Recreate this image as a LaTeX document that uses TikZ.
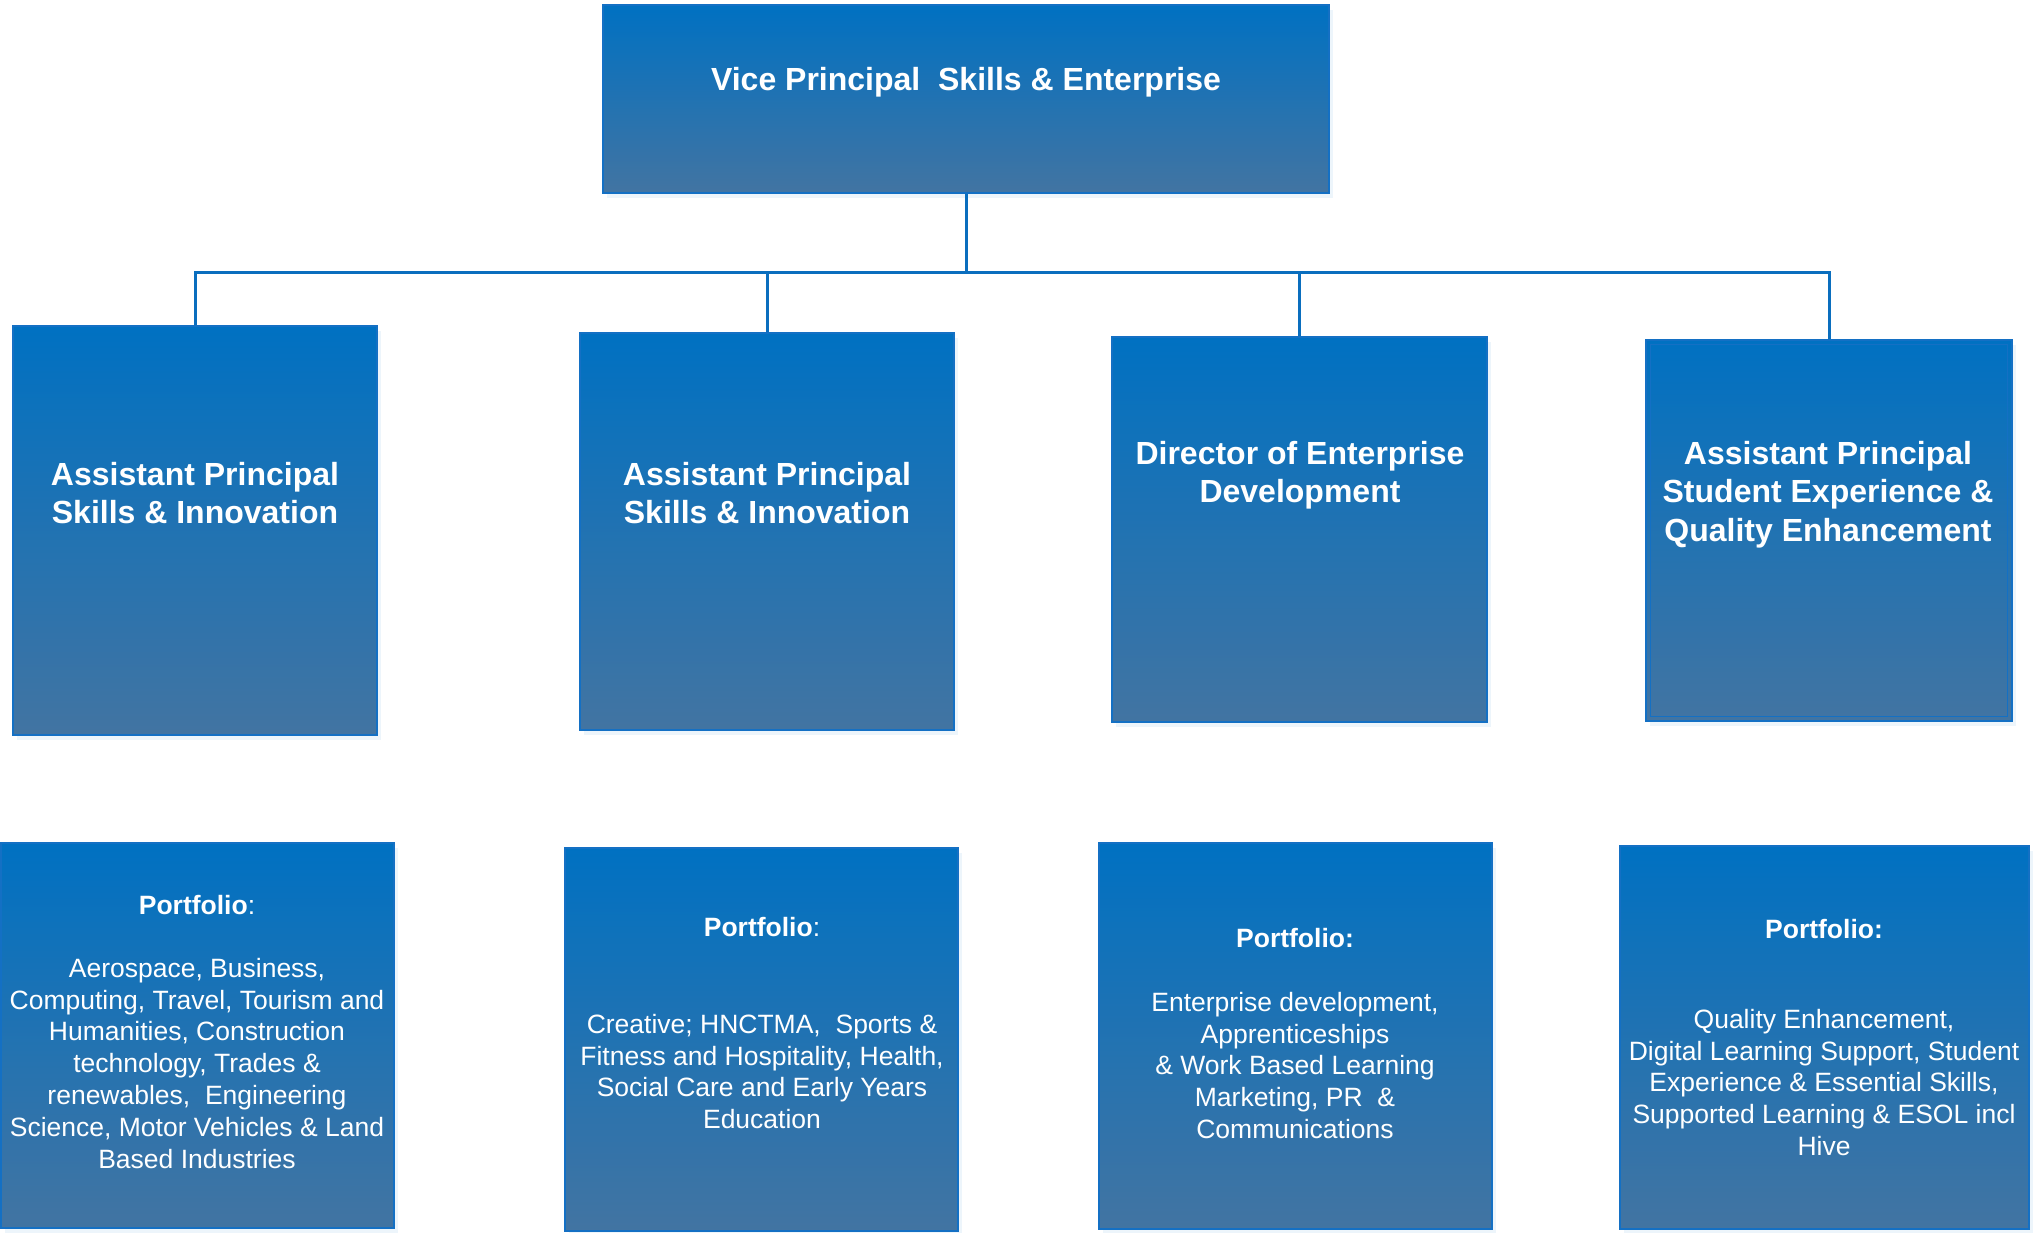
\documentclass[tikz,border=0pt]{standalone}
\usepackage{fontspec}
\setmainfont{Liberation Sans}
\usetikzlibrary{shadows}

\definecolor{boxtop}{RGB}{0,113,194}
\definecolor{boxbottom}{RGB}{66,116,162}
\definecolor{boxedge}{RGB}{20,112,196}
\definecolor{linkblue}{RGB}{10,110,190}

\begin{document}
\begin{tikzpicture}[x=1pt, y=-1pt,
    box/.style={draw=boxedge, line width=1.5pt, top color=boxtop, bottom color=boxbottom, inner sep=0pt,
      drop shadow={shadow xshift=4pt, shadow yshift=-5pt, fill=boxtop!7, opacity=1}},
    headtext/.style={text=white, font=\bfseries\fontsize{32}{38.5}\selectfont, align=center, anchor=north, inner sep=0pt},
    porttext/.style={text=white, font=\fontsize{26.5}{31.8}\selectfont, align=center, anchor=north, inner sep=0pt},
    link/.style={draw=linkblue, line width=3pt}]

    \useasboundingbox (0,0) rectangle (2033,1232);

    % Vice principal box at the top
    \node[box, minimum width=726pt, minimum height=188pt] (VP) at (966,99) {};
    \node[headtext] (VP_label) at (966,67) {Vice Principal~ Skills \& Enterprise};

    % Second row: the four posts under the vice principal
    \node[box, minimum width=364pt, minimum height=409pt] (APSI) at (195,530.5) {};
    \node[headtext] (APSI_label) at (195,462) {Assistant Principal\\Skills \& Innovation};

    \node[box, minimum width=374pt, minimum height=397pt] (APSItwo) at (767,531.5) {};
    \node[headtext] (APSItwo_label) at (767,462) {Assistant Principal\\Skills \& Innovation};

    \node[box, minimum width=375pt, minimum height=385pt] (DED) at (1299.5,529.5) {};
    \node[headtext] (DED_label) at (1300,441) {Director of Enterprise\\Development};

    \node[box, minimum width=366pt, minimum height=381pt] (APSE) at (1829,530.5) {};
    \draw[boxedge, line width=1pt] ([shift={(5,5)}]APSE.north west) rectangle ([shift={(-5,-5)}]APSE.south east);
    \node[headtext] (APSE_label) at (1828,441) {Assistant Principal\\Student Experience \&\\Quality Enhancement};

    % Connectors from the vice principal to the second row
    \coordinate (bus) at (966,272);
    \draw[link] (VP.south) -- (bus);
    \draw[link] (APSI.north) |- (bus);
    \draw[link] (APSItwo.north) |- (bus);
    \draw[link] (DED.north) |- (bus);
    \draw[link] (APSE.north) |- (bus);

    % Bottom row: the portfolios
    \node[box, minimum width=393pt, minimum height=385pt] (PortA) at (197.5,1035.5) {};
    \node[porttext] (PortA_label) at (197,895) {\textbf{Portfolio}:\\[31pt]Aerospace, Business,\\Computing, Travel, Tourism and\\Humanities, Construction\\technology, Trades \&\\renewables,~ Engineering\\Science, Motor Vehicles \& Land\\Based Industries};

    \node[box, minimum width=393pt, minimum height=383pt] (PortB) at (761.5,1039.5) {};
    \node[porttext] (PortB_label) at (762,917) {\textbf{Portfolio}:\\[65pt]Creative; HNCTMA,~ Sports \&\\Fitness and Hospitality, Health,\\Social Care and Early Years\\Education};

    \node[box, minimum width=393pt, minimum height=386pt] (PortC) at (1295.5,1036) {};
    \node[porttext] (PortC_label) at (1295,928) {\textbf{Portfolio:}\\[32pt]Enterprise development,\\Apprenticeships\\\& Work Based Learning\\Marketing, PR~ \&\\Communications};

    \node[box, minimum width=409pt, minimum height=383pt] (PortD) at (1824.5,1037.5) {};
    \node[porttext] (PortD_label) at (1824,919) {\textbf{Portfolio:}\\[58pt]Quality Enhancement,\\Digital Learning Support, Student\\Experience \& Essential Skills,\\Supported Learning \& ESOL incl\\Hive};

\end{tikzpicture}
\end{document}
